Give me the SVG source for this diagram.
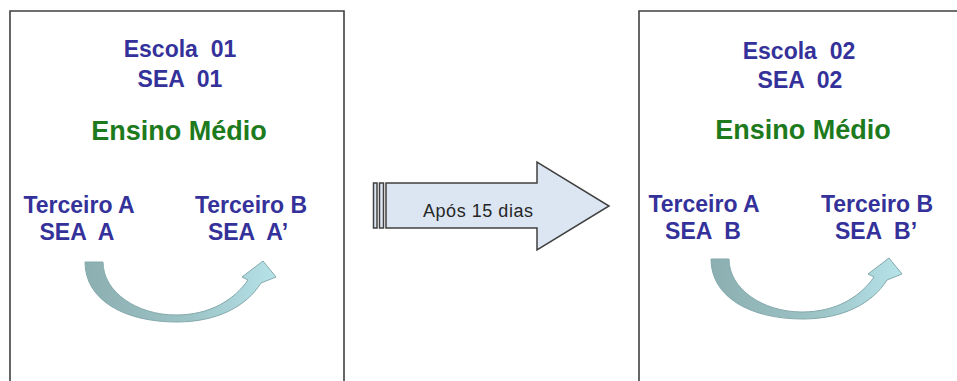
<svg xmlns="http://www.w3.org/2000/svg" width="957" height="381" viewBox="0 0 957 381">
  <style>
    .frame { fill: none; stroke: #404040; stroke-width: 1.6; }
    .blue { font-family: "Liberation Sans", Arial, sans-serif; font-weight: bold; font-size: 23px; fill: #34329a; text-anchor: middle; white-space: pre; }
    .green { font-family: "Liberation Sans", Arial, sans-serif; font-weight: bold; font-size: 27px; fill: #1d7a1d; text-anchor: middle; }
    .label { font-family: "Liberation Sans", Arial, sans-serif; font-size: 18px; fill: #262626; }
    .block { fill: #dce6f2; stroke: #404040; stroke-width: 1.5; }
    .curve { fill: url(#curveFill); stroke: #84a9ac; stroke-width: 1; }
  </style>
  <defs>
    <linearGradient id="curveFill" x1="0" y1="0" x2="1" y2="0">
      <stop offset="0" stop-color="#8cafb1"/>
      <stop offset="0.55" stop-color="#9cc3c6"/>
      <stop offset="1" stop-color="#b6e3e9"/>
    </linearGradient>
    <path id="turn" d="M85,262 L103,262 C103,292 137,315 176,315 C210,315 234,300 248,280 L242,277 L263,261 L276,277 L261,283 C246,307 216,322 177,322 C124,322 85,300 85,262 Z"/>
  </defs>

  <rect width="957" height="381" fill="#ffffff"/>

  <!-- school 01 -->
  <g id="escola01">
    <path class="frame" d="M10,390 L10,11 L344,11 L344,390"/>
    <text class="blue" x="180" y="57" xml:space="preserve">Escola  01</text>
    <text class="blue" x="180" y="87" xml:space="preserve">SEA  01</text>
    <text class="green" x="179" y="140">Ensino Médio</text>
    <text class="blue" x="79" y="213">Terceiro A</text>
    <text class="blue" x="77" y="240" xml:space="preserve">SEA  A</text>
    <text class="blue" x="251" y="213">Terceiro B</text>
    <text class="blue" x="248" y="240" xml:space="preserve">SEA  A’</text>
    <use href="#turn" class="curve"/>
  </g>

  <!-- school 02 -->
  <g id="escola02">
    <path class="frame" d="M639,390 L639,11 L960,11"/>
    <text class="blue" x="799" y="59" xml:space="preserve">Escola  02</text>
    <text class="blue" x="800" y="88" xml:space="preserve">SEA  02</text>
    <text class="green" x="803" y="139">Ensino Médio</text>
    <text class="blue" x="704" y="212">Terceiro A</text>
    <text class="blue" x="703" y="239" xml:space="preserve">SEA  B</text>
    <text class="blue" x="877" y="212">Terceiro B</text>
    <text class="blue" x="876" y="239" xml:space="preserve">SEA  B’</text>
    <use href="#turn" class="curve" transform="translate(626,-3)"/>
  </g>

  <!-- striped block arrow between the schools -->
  <g id="connectors">
    <rect class="block" x="373.5" y="183" width="3.5" height="45"/>
    <rect class="block" x="379.5" y="183" width="4" height="45"/>
    <path class="block" d="M386,183 L537,183 L537,162 L609,206 L537,250 L537,228 L386,228 Z"/>
    <text class="label" x="423" y="217" textLength="110" lengthAdjust="spacing">Após 15 dias</text>
  </g>
</svg>
